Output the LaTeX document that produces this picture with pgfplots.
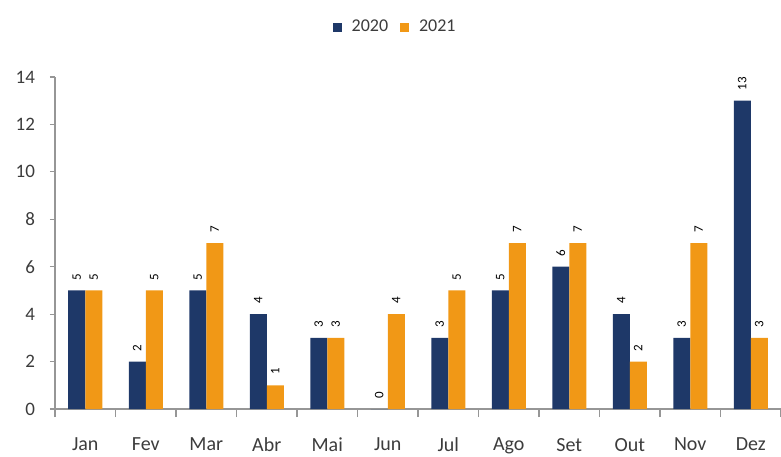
\documentclass[border=0pt]{standalone}
\usepackage{pgfplots}
\pgfplotsset{compat=1.18}
\usepackage{fontspec}
\setmainfont{Carlito}
\definecolor{cblue}{RGB}{30,56,104}
\definecolor{corange}{RGB}{241,152,22}
\definecolor{axgray}{RGB}{150,150,150}
\definecolor{txt}{RGB}{60,60,60}
\begin{document}
\begin{tikzpicture}
\begin{axis}[
  name=ax,
  scale only axis,
  width=363pt, height=166pt,
  ybar=0pt, bar width=8.5pt,
  xmin=-0.5, xmax=11.5,
  ymin=0, ymax=14,
  xtick={0,...,11},
  xticklabels={Jan,Fev,Mar,Abr,Mai,Jun,Jul,Ago,Set,Out,Nov,Dez},
  minor xtick={-0.5,0.5,...,11.5},
  ytick={0,2,...,14},
  axis lines*=left,
  axis line style={axgray, line width=0.6pt},
  tick align=outside,
  major tick length=2.5pt,
  minor tick length=4pt,
  x tick style={draw=none},
  minor x tick style={draw=axgray, line width=0.6pt},
  y tick style={axgray, line width=0.6pt},
  tick label style={font=\fontsize{9.5}{11}\selectfont, text=txt},
  /pgf/number format/assume math mode=true,
  xticklabel style={yshift=-8.5pt, font=\fontsize{10}{11}\selectfont},
  yticklabel style={xshift=-4pt},
  nodes near coords,
  every node near coord/.append style={rotate=90, anchor=west, font=\fontsize{6.5}{7}\selectfont, text=black, inner xsep=5pt},
  legend style={at={(0.47,1)}, anchor=south, yshift=17pt, draw=none, font=\fontsize{9}{10}\selectfont, text=txt, column sep=3pt, /tikz/every even column/.append style={column sep=4pt}},
  legend columns=2,
  legend image code/.code={\fill[#1,draw=none] (0pt,-2.2pt) rectangle (4.4pt,2.2pt);},
]
\addplot[fill=cblue, draw=none] coordinates {(0,5) (1,2) (2,5) (3,4) (4,3) (5,0) (6,3) (7,5) (8,6) (9,4) (10,3) (11,13)};
\addplot[fill=corange, draw=none] coordinates {(0,5) (1,5) (2,7) (3,1) (4,3) (5,4) (6,5) (7,7) (8,7) (9,2) (10,7) (11,3)};
\legend{2020,2021}
\end{axis}
\pgfresetboundingbox
\path (-27.5pt,-23.5pt) rectangle (363pt,204.5pt);
\end{tikzpicture}
\end{document}
